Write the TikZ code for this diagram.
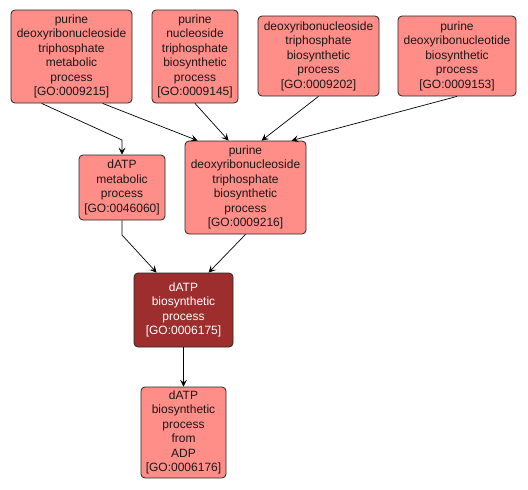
\documentclass[tikz,border=0pt]{standalone}
\usepackage{fontspec}
\setmainfont{Liberation Sans}
\usetikzlibrary{arrows.meta,calc}
\definecolor{lightgo}{RGB}{255,141,136}
\definecolor{darkgo}{RGB}{158,46,46}
\tikzset{
  gobox/.style={draw=black!85, line width=0.8pt, rounded corners=4pt, fill=lightgo,
    align=center, inner sep=0pt, font=\fontsize{12}{14.5}\selectfont, text=black!90},
  godark/.style={gobox, fill=darkgo, text=white},
  goedge/.style={draw=black, line width=0.7pt, -{Stealth[length=7pt,width=7pt,inset=3pt]}}
}
\begin{document}
\begin{tikzpicture}[x=1pt,y=-1pt]
\useasboundingbox (0,0) rectangle (528,490);
\node[gobox, minimum width=121pt, minimum height=93pt] (A) at (71.5,56.5)
  {purine\\deoxyribonucleoside\\triphosphate\\metabolic\\process\\{[GO:0009215]}};
\node[gobox, minimum width=86pt, minimum height=93pt] (B) at (195,56.5)
  {purine\\nucleoside\\triphosphate\\biosynthetic\\process\\{[GO:0009145]}};
\node[gobox, minimum width=121pt, minimum height=80pt] (C) at (318.5,56)
  {deoxyribonucleoside\\triphosphate\\biosynthetic\\process\\{[GO:0009202]}};
\node[gobox, minimum width=118pt, minimum height=80pt] (D) at (457,56)
  {purine\\deoxyribonucleotide\\biosynthetic\\process\\{[GO:0009153]}};
\node[gobox, minimum width=86pt, minimum height=65pt] (E) at (122,187.5)
  {dATP\\metabolic\\process\\{[GO:0046060]}};
\node[gobox, minimum width=121pt, minimum height=93pt] (F) at (245.5,187.5)
  {purine\\deoxyribonucleoside\\triphosphate\\biosynthetic\\process\\{[GO:0009216]}};
\node[godark, minimum width=99pt, minimum height=74pt] (G) at (183.5,310)
  {dATP\\biosynthetic\\process\\{[GO:0006175]}};
\node[gobox, minimum width=85pt, minimum height=91pt] (H) at (183.5,432.5)
  {dATP\\biosynthetic\\process\\from\\ADP\\{[GO:0006176]}};
\coordinate (ae) at (122,140);
\coordinate (eg) at (122,235);
\draw[goedge] ($(A.south west)+(31,0)$) -- (ae) -- (E.north);
\draw[goedge] ($(A.south west)+(92,0)$) -- ($(F.north west)+(13,0)$);
\draw[goedge] (B.south) -- ($(F.north west)+(44,0)$);
\draw[goedge] (C.south) -- ($(F.north west)+(77,0)$);
\draw[goedge] (D.south) -- ($(F.north west)+(107,0)$);
\draw[goedge] (E.south) -- (eg) -- ($(G.north west)+(23,0)$);
\draw[goedge] (F.south) -- ($(G.north west)+(75,0)$);
\draw[goedge] (G.south) -- (H.north);
\end{tikzpicture}
\end{document}
